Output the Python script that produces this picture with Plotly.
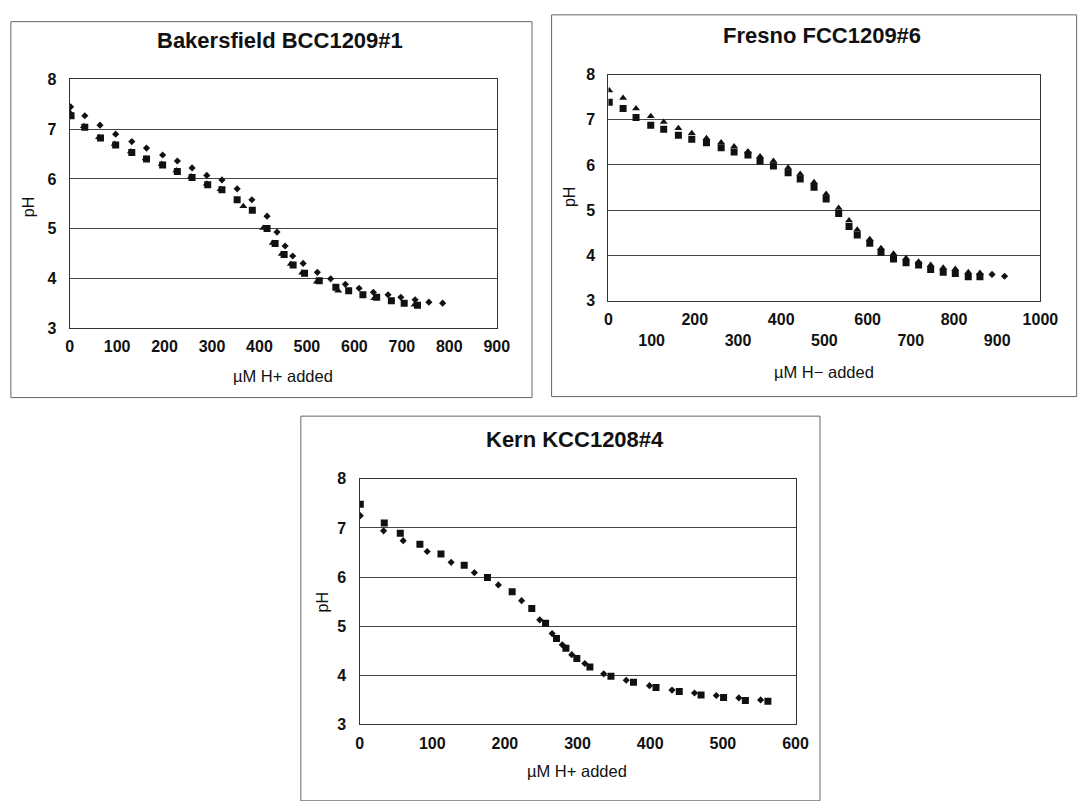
import plotly.graph_objects as go

W, H = 1078, 801

# ---------------- Data ----------------
# Bakersfield BCC1209#1
bk_d_x = [2, 32, 64, 97, 131, 162, 196, 227, 258, 289, 321, 353, 384, 416, 437, 454, 470, 492, 522, 550, 581, 610, 640, 671, 698, 728, 757, 786]
bk_d_ph = [7.45, 7.27, 7.08, 6.9, 6.75, 6.62, 6.48, 6.36, 6.22, 6.07, 5.98, 5.8, 5.58, 5.25, 4.93, 4.65, 4.45, 4.3, 4.12, 3.99, 3.88, 3.8, 3.72, 3.67, 3.62, 3.57, 3.52, 3.5]
bk_s_x = [3, 32, 65, 97, 131, 162, 196, 227, 258, 291, 321, 353, 385, 416, 433, 452, 471, 495, 526, 561, 588, 618, 647, 678, 705, 733]
bk_s_ph = [7.27, 7.04, 6.82, 6.68, 6.53, 6.4, 6.28, 6.15, 6.03, 5.88, 5.78, 5.58, 5.37, 5.0, 4.7, 4.48, 4.27, 4.1, 3.95, 3.82, 3.75, 3.67, 3.62, 3.55, 3.5, 3.46]
bk_t_x = [1, 30, 62, 95, 129, 160, 194, 225, 256, 289, 318, 366, 408, 428, 447, 466, 490, 521, 566, 642, 727]
bk_t_ph = [7.33, 7.06, 6.84, 6.7, 6.55, 6.41, 6.3, 6.17, 6.05, 5.9, 5.79, 5.45, 5.01, 4.71, 4.49, 4.29, 4.11, 3.93, 3.75, 3.6, 3.47]

# Fresno FCC1209#6
fr_x = [2, 34, 64, 98, 128, 162, 193, 227, 261, 291, 323, 351, 382, 416, 444, 476, 504, 533, 557, 576, 605, 631, 660, 689, 718, 746, 775, 803, 833, 860]
fr_t_ph = [7.65, 7.48, 7.25, 7.08, 6.95, 6.81, 6.7, 6.59, 6.5, 6.41, 6.3, 6.19, 6.09, 5.94, 5.8, 5.62, 5.36, 5.05, 4.77, 4.57, 4.36, 4.16, 4.04, 3.94, 3.86, 3.79, 3.73, 3.7, 3.63, 3.61]
fr_s_ph = [7.39, 7.25, 7.05, 6.88, 6.79, 6.66, 6.57, 6.49, 6.38, 6.29, 6.22, 6.09, 5.98, 5.83, 5.69, 5.51, 5.25, 4.93, 4.64, 4.45, 4.27, 4.07, 3.92, 3.84, 3.79, 3.69, 3.63, 3.6, 3.53, 3.53]
fr_d_x = [888, 917]
fr_d_ph = [3.58, 3.54]

# Kern KCC1208#4
kn_s_x = [1, 34, 56, 83, 112, 144, 176, 210, 237, 256, 271, 284, 299, 317, 346, 377, 408, 440, 470, 501, 531, 562]
kn_s_ph = [7.48, 7.1, 6.89, 6.67, 6.47, 6.24, 5.99, 5.7, 5.36, 5.06, 4.75, 4.55, 4.34, 4.17, 3.98, 3.86, 3.75, 3.67, 3.6, 3.55, 3.49, 3.47]
kn_d_x = [1, 33, 60, 93, 126, 158, 191, 223, 248, 265, 279, 292, 310, 336, 367, 399, 430, 461, 491, 522, 552]
kn_d_ph = [7.25, 6.94, 6.74, 6.52, 6.3, 6.09, 5.84, 5.52, 5.13, 4.85, 4.62, 4.42, 4.24, 4.03, 3.9, 3.79, 3.7, 3.64, 3.59, 3.54, 3.5]

titles = ["Bakersfield BCC1209#1", "Fresno FCC1209#6", "Kern KCC1208#4"]
xtitles = ["\u00b5M H+ added", "\u00b5M H\u2212 added", "\u00b5M H+ added"]
ytitle = "pH"
fr_ticks = list(range(0, 1001, 100))
fr_ticktext = [str(v) if (v // 100) % 2 == 0 else "<br>" + str(v) for v in fr_ticks]

# ---------------- Helpers ----------------
def fx(px):
    return px / W

def fy(py):
    return 1 - py / H

INK = "#111111"
FONT = "Liberation Sans"

def mk(sym, size):
    return dict(symbol=sym, size=size, color=INK, line=dict(width=0))

fig = go.Figure()

# Chart 1
fig.add_trace(go.Scatter(x=bk_t_x, y=bk_t_ph, mode="markers", marker=mk("triangle-up", 7), xaxis="x", yaxis="y"))
fig.add_trace(go.Scatter(x=bk_s_x, y=bk_s_ph, mode="markers", marker=mk("square", 7), xaxis="x", yaxis="y"))
fig.add_trace(go.Scatter(x=bk_d_x, y=bk_d_ph, mode="markers", marker=mk("diamond", 5.5), xaxis="x", yaxis="y"))
# Chart 2
fig.add_trace(go.Scatter(x=fr_x, y=fr_s_ph, mode="markers", marker=mk("square", 7), xaxis="x2", yaxis="y2"))
fig.add_trace(go.Scatter(x=fr_x, y=fr_t_ph, mode="markers", marker=mk("triangle-up", 7), xaxis="x2", yaxis="y2"))
fig.add_trace(go.Scatter(x=fr_d_x, y=fr_d_ph, mode="markers", marker=mk("diamond", 5.5), xaxis="x2", yaxis="y2"))
# Chart 3
fig.add_trace(go.Scatter(x=kn_s_x, y=kn_s_ph, mode="markers", marker=mk("square", 7), xaxis="x3", yaxis="y3"))
fig.add_trace(go.Scatter(x=kn_d_x, y=kn_d_ph, mode="markers", marker=mk("diamond", 5.5), xaxis="x3", yaxis="y3"))

tickfont = dict(family=FONT, size=16, color=INK, weight="bold")

def xax(dom, rng, anchor, **kw):
    d = dict(domain=[fx(dom[0]), fx(dom[1])], range=rng, anchor=anchor,
             showgrid=False, zeroline=False, showline=True, linecolor="#333333",
             linewidth=1.3, mirror=True, ticks="", tickfont=tickfont,
             ticklabelstandoff=4, fixedrange=True)
    d.update(kw)
    return d

def yax(dom, anchor):
    return dict(domain=[fy(dom[1]), fy(dom[0])], range=[3, 8], anchor=anchor,
                dtick=1, showgrid=True, gridcolor="#444444", gridwidth=1,
                zeroline=False, showline=True, linecolor="#333333", linewidth=1.3,
                mirror=True, ticks="", tickfont=tickfont, ticklabelstandoff=9,
                fixedrange=True)

fig.update_layout(
    width=W, height=H, margin=dict(l=0, r=0, t=0, b=0),
    paper_bgcolor="white", plot_bgcolor="white", showlegend=False,
    xaxis=xax((67, 503), [0, 900], "y", dtick=100, tick0=0),
    yaxis=yax((73, 327), "x"),
    xaxis2=xax((617, 1058), [0, 1000], "y2", tickmode="array", tickvals=fr_ticks, ticktext=fr_ticktext),
    yaxis2=yax((68, 299), "x2"),
    xaxis3=xax((363, 808), [0, 600], "y3", dtick=100, tick0=0),
    yaxis3=yax((481, 732), "x3"),
)

# Outer chart boxes
boxes = [(7, 14, 539, 398), (559, 7, 1095, 397), (303, 417, 833, 810)]
for (x0, y0, x1, y1) in boxes:
    fig.add_shape(type="rect", xref="paper", yref="paper", x0=fx(x0), y0=fy(y0), x1=fx(x1), y1=fy(y1),
                  line=dict(color="#666666", width=1), fillcolor="rgba(0,0,0,0)", layer="below")

ann = []
# chart titles
for t, (cx, cy) in zip(titles, [(282, 33), (835, 28), (583, 441)]):
    ann.append(dict(text=t, x=fx(cx), y=fy(cy), xref="paper", yref="paper", showarrow=False,
                    xanchor="center", yanchor="middle", font=dict(family=FONT, size=22, color=INK, weight="bold")))
# x-axis titles
for t, (cx, cy) in zip(xtitles, [(285, 376), (837, 372), (585, 780)]):
    ann.append(dict(text=t, x=fx(cx), y=fy(cy), xref="paper", yref="paper", showarrow=False,
                    xanchor="center", yanchor="middle", font=dict(family=FONT, size=16.5, color=INK)))
# y-axis titles
for (cx, cy) in [(25, 203), (578, 193), (325, 607)]:
    ann.append(dict(text=ytitle, x=fx(cx), y=fy(cy), xref="paper", yref="paper", showarrow=False,
                    textangle=-90, xanchor="center", yanchor="middle", font=dict(family=FONT, size=16, color=INK)))
fig.update_layout(annotations=ann)

fig.write_html("out.html")
